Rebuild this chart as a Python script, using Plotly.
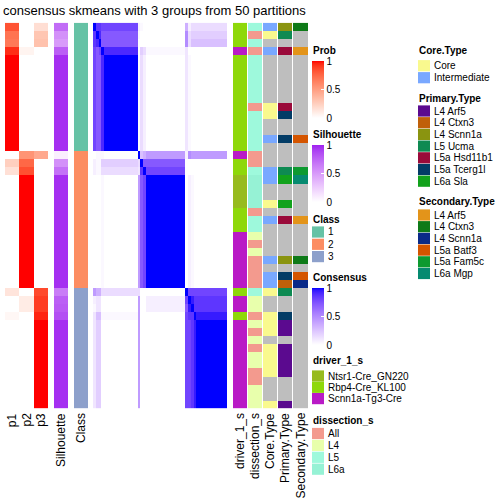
import plotly.graph_objects as go

W, H = 504, 504
FONT = "Liberation Sans, Arial, Helvetica, sans-serif"

TITLE = "consensus skmeans with 3 groups from 50 partitions"

# ---------------- data (48 samples, ordered as in the picture) ----------------
P1 = [0.83, 0.70, 0.68, 0.94,
      1, 1, 1, 1, 1, 1, 1, 1, 1, 1, 1, 1,
      0, 0.25, 0.16,
      0, 0, 0, 0, 0, 0, 0, 0, 0, 0, 0, 0, 0, 0,
      0.14, 0, 0, 0.04,
      0, 0, 0, 0, 0, 0, 0, 0, 0, 0, 0]
P2 = [0, 0, 0, 0.06,
      0, 0, 0, 0, 0, 0, 0, 0, 0, 0, 0, 0,
      0.55, 0.75, 0.84,
      1, 1, 1, 1, 1, 1, 1, 1, 1, 1, 1, 1, 1, 1,
      0, 0.10, 0.10, 0,
      0, 0, 0, 0, 0, 0, 0, 0, 0, 0, 0]
P3 = [0.17, 0.30, 0.32, 0,
      0, 0, 0, 0, 0, 0, 0, 0, 0, 0, 0, 0,
      0.45, 0, 0,
      0, 0, 0, 0, 0, 0, 0, 0, 0, 0, 0, 0, 0, 0,
      0.86, 0.90, 0.90, 0.96,
      1, 1, 1, 1, 1, 1, 1, 1, 1, 1, 1]
SILHOUETTE = [0.72, 0.55, 0.50, 0.78,
              0.96, 0.96, 0.96, 0.96, 0.96, 0.96, 0.96, 0.96, 0.96, 0.96, 0.96, 0.96,
              0.08, 0.55, 0.70,
              0.96, 0.96, 0.96, 0.96, 0.96, 0.96, 0.96, 0.96, 0.96, 0.96, 0.96, 0.96, 0.96, 0.96,
              0.65, 0.78, 0.80, 0.85,
              0.96, 0.96, 0.96, 0.96, 0.96, 0.96, 0.96, 0.96, 0.96, 0.96, 0.96]
CLASS = [1, 1, 1, 1, 1, 1, 1, 1, 1, 1, 1, 1, 1, 1, 1, 1,
         2, 2, 2, 2, 2, 2, 2, 2, 2, 2, 2, 2, 2, 2, 2, 2, 2,
         3, 3, 3, 3, 3, 3, 3, 3, 3, 3, 3, 3, 3, 3, 3]

# consensus matrix: one string per row (run-length written), one character per column
CONSENSUS_LEVELS = {'0': 0.0, '1': 0.03, '2': 0.07, '3': 0.11, '4': 0.15, '5': 0.21,
                    '6': 0.27, '7': 0.34, '8': 0.43, '9': 0.50, 'A': 0.58, 'B': 0.65,
                    'C': 0.72, 'D': 0.80, 'E': 0.86, 'F': 0.91, 'G': 0.95, 'X': 1.0}
ROW_A = "DCCF" + "X" * 12 + "042" + "0" * 14 + "3100" + "0" * 11
ROW_B = "0001" + "0" * 12 + "8CD" + "X" * 14 + "0210" + "0" * 11
ROW_C = "3550" + "0" * 12 + "800" + "0" * 14 + "DDEG" + "X" * 11
CONSENSUS_ROWS = [
    "XEED" + "D" * 12 + "210" + "0" * 14 + "7244" + "4" * 11,
    "EXFC" + "C" * 12 + "100" + "0" * 14 + "9455" + "5" * 11,
    "EFXC" + "C" * 12 + "000" + "0" * 14 + "9466" + "6" * 11,
    "DCDX" + "F" * 12 + "054" + "1" * 14 + "3000" + "0" * 11,
    ROW_A, ROW_A, ROW_A, ROW_A, ROW_A, ROW_A, ROW_A, ROW_A, ROW_A, ROW_A, ROW_A, ROW_A,
    "0111" + "0" * 12 + "X67" + "8" * 14 + "2988" + "8" * 11,
    "2115" + "5" * 12 + "4XC" + "C" * 14 + "0000" + "0" * 11,
    "2114" + "4" * 12 + "3EX" + "D" * 14 + "0000" + "0" * 11,
    ROW_B, ROW_B, ROW_B, ROW_B, ROW_B, ROW_B, ROW_B, ROW_B, ROW_B, ROW_B, ROW_B, ROW_B, ROW_B, ROW_B,
    "8774" + "4" * 12 + "400" + "0" * 14 + "XDDD" + "D" * 11,
    "2330" + "0" * 12 + "800" + "2" * 14 + "DXGE" + "E" * 11,
    "1330" + "0" * 12 + "800" + "2" * 14 + "CGXE" + "E" * 11,
    "3661" + "1" * 12 + "800" + "0" * 14 + "DEEX" + "G" * 11,
    ROW_C, ROW_C, ROW_C, ROW_C, ROW_C, ROW_C, ROW_C, ROW_C, ROW_C, ROW_C, ROW_C,
]

NT, RB, SC = "Ntsr1-Cre_GN220", "Rbp4-Cre_KL100", "Scnn1a-Tg3-Cre"
DRIVER_LEVELS = [NT, RB, SC]
DRIVER = [RB, RB, RB, SC,
          RB, RB, RB, RB, RB, RB, RB, RB, RB, RB, RB, RB,
          SC, RB, RB,
          NT, NT, NT, NT, RB, RB, RB, SC, SC, SC, SC, SC, SC, SC,
          RB, SC, SC, RB,
          SC, SC, SC, SC, SC, SC, SC, SC, SC, SC, SC]

DISSECTION_LEVELS = ["All", "L4", "L5", "L6a"]
DISSECTION = ["L5", "All", "L5", "All",
              "L5", "L5", "L5", "L5", "L5", "L5", "All", "L5", "L5", "L5", "L5", "L5",
              "All", "All", "L5",
              "L6a", "L6a", "L6a", "L6a", "All", "L5", "L5", "L4", "All", "L4", "All", "All", "All", "All",
              "L5", "L4", "L4", "All",
              "L4", "All", "L4", "All", "L4", "L4", "All", "All", "L4", "L4", "L4"]

CORE_LEVELS = ["Core", "Intermediate"]
CORE = ["Intermediate", "Core", None, "Intermediate",
        None, None, None, None, None, None, "Core", "Core", None, None, "Intermediate", None,
        None, None, "Intermediate",
        "Intermediate", None, None, "Core", None, "Intermediate", None, None, None, None,
        "Intermediate", None, "Intermediate", "Intermediate",
        "Core", None, None, "Core",
        "Core", "Core", None, "Core", "Core", "Core", "Core", None, None, None, "Core"]

PRIMARY_LEVELS = ["L4 Arf5", "L4 Ctxn3", "L4 Scnn1a", "L5 Ucma", "L5a Hsd11b1", "L5a Tcerg1l", "L6a Sla"]
PRIMARY = ["L4 Scnn1a", "L5 Ucma", None, "L5a Hsd11b1",
           None, None, None, None, None, None, "L5a Hsd11b1", "L5a Tcerg1l", None, None, "L5a Tcerg1l", None,
           None, None, "L5 Ucma",
           "L6a Sla", None, None, "L6a Sla", None, "L5a Hsd11b1", None, None, None, None,
           "L4 Scnn1a", None, "L5a Tcerg1l", "L4 Ctxn3",
           "L5 Ucma", None, None, "L5a Tcerg1l",
           "L4 Arf5", "L4 Arf5", None, "L4 Arf5", "L4 Arf5", "L4 Arf5", "L4 Arf5", None, None, None, "L4 Arf5"]

SECONDARY_LEVELS = ["L4 Arf5", "L4 Ctxn3", "L4 Scnn1a", "L5a Batf3", "L5a Fam5c", "L6a Mgp"]
SECONDARY = ["L4 Ctxn3", None, None, "L4 Arf5",
             None, None, None, None, None, None, None, None, None, None, "L5a Batf3", None,
             None, None, "L5a Fam5c",
             "L6a Mgp", None, None, None, None, "L4 Arf5", None, None, None, None,
             "L4 Ctxn3", None, "L5a Batf3", "L4 Scnn1a",
             None, None, None, None,
             None, None, None, None, None, None, None, None, None, None, None]

PROB_LABELS = ["p1", "p2", "p3"]
COLUMN_NAMES = ["driver_1_s", "dissection_s", "Core.Type", "Primary.Type", "Secondary.Type"]

# ---------------- colours ----------------
CLASS_COLORS = ["#66C2A5", "#FC8D62", "#8DA0CB"]
DRIVER_COLORS = ["#97BB1E", "#8ED80A", "#B91AC6"]
DISSECTION_COLORS = ["#F39A8E", "#E8FFAC", "#9EF9DC", "#96F2D5"]
CORE_COLORS = ["#F9F98E", "#79A8FF"]
PRIMARY_COLORS = ["#5B0A8F", "#C0600A", "#8A9410", "#0E8A52", "#9A0A3A", "#033C66", "#12A21C"]
SECONDARY_COLORS = ["#E3941A", "#0E7A18", "#0A2A88", "#D45500", "#0D9A30", "#068A70"]
NA_COLOR = "#BEBEBE"


def _hex(h):
    h = h.lstrip('#')
    return tuple(int(h[i:i + 2], 16) for i in (0, 2, 4))


def _lin(c):
    c = c / 255.0
    return c / 12.92 if c <= 0.04045 else ((c + 0.055) / 1.055) ** 2.4


def _gam(c):
    c = max(0.0, min(1.0, c))
    return 12.92 * c if c <= 0.0031308 else 1.055 * c ** (1 / 2.4) - 0.055


def _to_lab(rgb):
    r, g, b = [_lin(v) for v in rgb]
    X = (0.4124 * r + 0.3576 * g + 0.1805 * b) / 0.95047
    Y = 0.2126 * r + 0.7152 * g + 0.0722 * b
    Z = (0.0193 * r + 0.1192 * g + 0.9505 * b) / 1.08883
    f = lambda t: t ** (1 / 3) if t > 0.008856 else 7.787 * t + 16 / 116
    fx, fy, fz = f(X), f(Y), f(Z)
    return 116 * fy - 16, 500 * (fx - fy), 200 * (fy - fz)


def _from_lab(L, a, b):
    fy = (L + 16) / 116
    fx = fy + a / 500
    fz = fy - b / 200
    finv = lambda t: t ** 3 if t ** 3 > 0.008856 else (t - 16 / 116) / 7.787
    X, Y, Z = finv(fx) * 0.95047, finv(fy), finv(fz) * 1.08883
    r = 3.2406 * X - 1.5372 * Y - 0.4986 * Z
    g = -0.9689 * X + 1.8758 * Y + 0.0415 * Z
    bb = 0.0557 * X - 0.2040 * Y + 1.0570 * Z
    return tuple(round(255 * _gam(v)) for v in (r, g, bb))


def lab_ramp(c0, c1, n=26):
    l0, l1 = _to_lab(_hex(c0)), _to_lab(_hex(c1))
    out = []
    for i in range(n):
        t = i / (n - 1)
        r, g, b = _from_lab(*[l0[k] + (l1[k] - l0[k]) * t for k in range(3)])
        out.append([t, f"rgb({r},{g},{b})"])
    return out


def discrete_scale(colors):
    n = len(colors)
    s = []
    for i, c in enumerate(colors):
        s.append([i / n, c])
        s.append([(i + 1) / n, c])
    return s


PROB_SCALE = lab_ramp("#FFFFFF", "#FF0000")
SIL_SCALE = lab_ramp("#FFFFFF", "#A020F0")
CONS_SCALE = lab_ramp("#FFFFFF", "#0000FF")

# ---------------- geometry (pixels) ----------------
def px(x):
    return x / W


def py(y):
    return 1 - y / H


ROW_TOP, ROW_BOTTOM = 22.7, 408.3
COLS = {  # axis name: (left, right)
    "x": (5, 48), "x2": (54, 68), "x3": (74, 88), "x4": (93, 227),
    "x5": (233, 247), "x6": (248, 262), "x7": (263, 277), "x8": (278, 292), "x9": (293, 308),
}

n_rows = len(P1)
rows = list(range(n_rows))

fig = go.Figure()

cb_common = dict(xanchor="left", xpad=0, yanchor="top", ypad=0, lenmode="pixels",
                 thickness=12, thicknessmode="pixels", outlinewidth=0,
                 tickvals=[0, 0.5, 1], ticktext=["0", "0.5", "1"], ticks="inside",
                 ticklen=3, tickcolor="white", tickwidth=1,
                 tickfont=dict(size=10, family=FONT, color="black"))

# probabilities
fig.add_trace(go.Heatmap(
    z=[[P1[i], P2[i], P3[i]] for i in rows], x=[0, 1, 2], y=rows,
    colorscale=PROB_SCALE, zmin=0, zmax=1, xaxis="x", yaxis="y", hoverinfo="skip",
    colorbar=dict(x=px(312), y=py(61), len=57, **cb_common)))

# silhouette
fig.add_trace(go.Heatmap(
    z=[[SILHOUETTE[i]] for i in rows], x=[0], y=rows,
    colorscale=SIL_SCALE, zmin=0, zmax=1, xaxis="x2", yaxis="y", hoverinfo="skip",
    colorbar=dict(x=px(312), y=py(145), len=57, **cb_common)))

# class
fig.add_trace(go.Heatmap(
    z=[[CLASS[i] - 1] for i in rows], x=[0], y=rows,
    colorscale=discrete_scale(CLASS_COLORS), zmin=-0.5, zmax=len(CLASS_COLORS) - 0.5,
    showscale=False, xaxis="x3", yaxis="y", hoverinfo="skip"))

# consensus matrix
cons_z = [[CONSENSUS_LEVELS[ch] for ch in CONSENSUS_ROWS[i]] for i in rows]
fig.add_trace(go.Heatmap(
    z=cons_z, x=list(range(len(cons_z[0]))), y=rows,
    colorscale=CONS_SCALE, zmin=0, zmax=1, xaxis="x4", yaxis="y", hoverinfo="skip",
    colorbar=dict(x=px(312), y=py(288), len=57, **cb_common)))


def cat_trace(values, levels, colors, axis):
    codes = [[levels.index(v) if v is not None else len(levels)] for v in values]
    cols = list(colors) + [NA_COLOR]
    return go.Heatmap(z=codes, x=[0], y=rows, colorscale=discrete_scale(cols),
                      zmin=-0.5, zmax=len(cols) - 0.5, showscale=False,
                      xaxis=axis, yaxis="y", hoverinfo="skip")


fig.add_trace(cat_trace(DRIVER, DRIVER_LEVELS, DRIVER_COLORS, "x5"))
fig.add_trace(cat_trace(DISSECTION, DISSECTION_LEVELS, DISSECTION_COLORS, "x6"))
fig.add_trace(cat_trace(CORE, CORE_LEVELS, CORE_COLORS, "x7"))
fig.add_trace(cat_trace(PRIMARY, PRIMARY_LEVELS, PRIMARY_COLORS, "x8"))
fig.add_trace(cat_trace(SECONDARY, SECONDARY_LEVELS, SECONDARY_COLORS, "x9"))

layout_axes = {}
for name, (l, r) in COLS.items():
    key = "xaxis" if name == "x" else "xaxis" + name[1:]
    layout_axes[key] = dict(domain=[px(l), px(r)], visible=False, fixedrange=True,
                            anchor="y", showgrid=False, zeroline=False)
layout_axes["yaxis"] = dict(domain=[py(ROW_BOTTOM), py(ROW_TOP)], range=[n_rows - 0.5, -0.5],
                            visible=False, fixedrange=True, showgrid=False, zeroline=False)

annotations = []
shapes = []


def text(x, y, s, size=10, xanchor="left", yanchor="middle", angle=0, bold=False):
    annotations.append(dict(x=px(x), y=py(y), xref="paper", yref="paper", text=f"<b>{s}</b>" if bold else s,
                            showarrow=False, xanchor=xanchor, yanchor=yanchor, textangle=angle,
                            font=dict(size=size, family=FONT, color="black"), borderpad=0))


# title
text(2, 10.5, TITLE, size=13)

# bottom column names
p_left, p_right = COLS["x"]
pw = (p_right - p_left) / 3
for k, lab in enumerate(PROB_LABELS):
    text(p_left + pw * (k + 0.5), 412, lab, size=12, xanchor="center", yanchor="top", angle=-90)
text(sum(COLS["x2"]) / 2, 412, "Silhouette", size=12, xanchor="center", yanchor="top", angle=-90)
text(sum(COLS["x3"]) / 2, 412, "Class", size=12, xanchor="center", yanchor="top", angle=-90)
for ax, lab in zip(["x5", "x6", "x7", "x8", "x9"], COLUMN_NAMES):
    text(sum(COLS[ax]) / 2, 412, lab, size=12, xanchor="center", yanchor="top", angle=-90)

# legends
text(312, 50.5, "Prob", bold=True)
text(312, 134.5, "Silhouette", bold=True)
text(312, 277.5, "Consensus", bold=True)


def discrete_legend(x, y_title, title, labels, colors, step=11.8, first=None):
    text(x, y_title, title, bold=True)
    y0 = first if first is not None else y_title + 14.5
    for k, (lab, col) in enumerate(zip(labels, colors)):
        yc = y0 + k * step
        shapes.append(dict(type="rect", xref="paper", yref="paper",
                           x0=px(x), x1=px(x + 12), y0=py(yc - 5.6), y1=py(yc + 5.6),
                           fillcolor=col, line=dict(width=0)))
        text(x + 15, yc, lab)


discrete_legend(312, 219, "Class", ["1", "2", "3"], CLASS_COLORS, step=12.3, first=232)
discrete_legend(312, 360.5, "driver_1_s", DRIVER_LEVELS, DRIVER_COLORS, step=11.3, first=376)
discrete_legend(312, 420, "dissection_s", DISSECTION_LEVELS, DISSECTION_COLORS, step=11.9, first=433.5)
discrete_legend(418, 50.5, "Core.Type", CORE_LEVELS, CORE_COLORS, step=12, first=65.7)
discrete_legend(418, 98.3, "Primary.Type", PRIMARY_LEVELS, PRIMARY_COLORS, step=11.7, first=111)
discrete_legend(418, 201.7, "Secondary.Type", SECONDARY_LEVELS, SECONDARY_COLORS, step=11.7, first=215)

fig.update_layout(
    width=W, height=H, margin=dict(l=0, r=0, t=0, b=0),
    paper_bgcolor="white", plot_bgcolor="white",
    showlegend=False, annotations=annotations, shapes=shapes,
    font=dict(family=FONT, size=10, color="black"),
    **layout_axes)

fig.write_html("out.html", config={"displayModeBar": False},
               post_script="document.body.style.margin='0';document.body.style.padding='0';"
                           "document.documentElement.style.overflow='hidden';")
